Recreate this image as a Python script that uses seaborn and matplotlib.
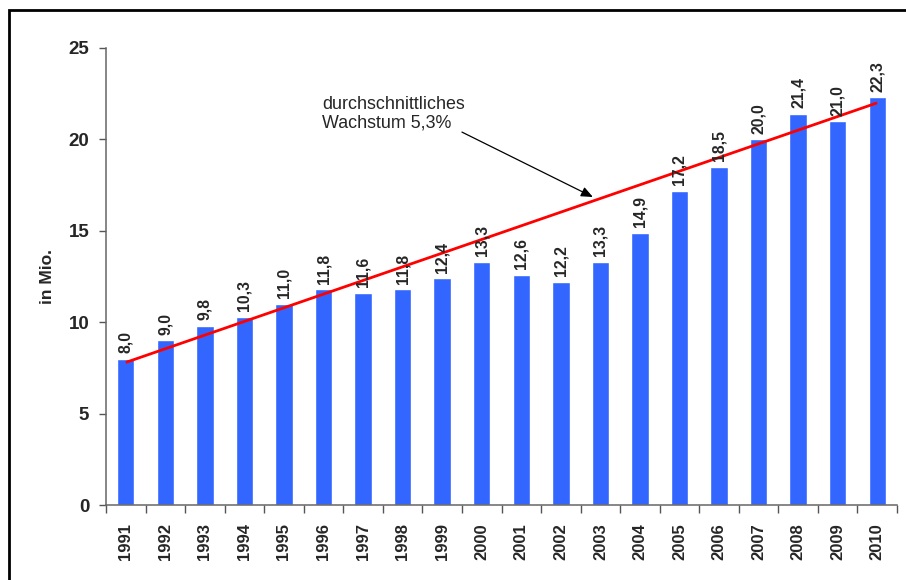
import numpy as np
import pandas as pd
import matplotlib
matplotlib.use("Agg")
import matplotlib.pyplot as plt
from matplotlib.patches import Rectangle
import seaborn as sns

# data
years = [str(y) for y in range(1991, 2011)]
values = [8.0, 9.0, 9.8, 10.3, 11.0, 11.8, 11.6, 11.8, 12.4, 13.3,
          12.6, 12.2, 13.3, 14.9, 17.2, 18.5, 20.0, 21.4, 21.0, 22.3]
trend_x = [0, 19]
trend_y = [7.8, 22.0]
note = "durchschnittliches\nWachstum 5,3%"

sns.set_style("ticks")
plt.rcParams['font.family'] = ['Liberation Sans', 'DejaVu Sans']

df = pd.DataFrame({"year": years, "value": values})

fig = plt.figure(figsize=(9.06, 5.8), dpi=100)
ax = fig.add_axes([106 / 906, 75 / 580, (897 - 106) / 906, (505 - 48) / 580])

sns.barplot(data=df, x="year", y="value", color="#3366FF", saturation=1,
            width=0.44, ax=ax)

# trend line
ax.plot(trend_x, trend_y, color="#FF0000", lw=2, solid_capstyle="butt")

# value labels
for i, v in enumerate(values):
    ax.text(i, v + 0.3, f"{v:.1f}".replace(".", ","), rotation=90,
            ha="center", va="bottom", fontsize=11.3, fontweight="bold")

# annotation
ax.text(4.96, 22.4, note, ha="left", va="top", fontsize=12.9,
        linespacing=1.15)
ax.annotate("", xy=(11.81, 16.85), xytext=(8.5, 20.4),
            arrowprops=dict(arrowstyle="-|>,head_length=0.7,head_width=0.3",
                            color="black", lw=0.9, shrinkA=0, shrinkB=0))

ax.set_xlim(-0.5, 19.5)
ax.set_ylim(0, 25)
ax.set_yticks([0, 5, 10, 15, 20, 25])
ax.set_xlabel("")
ax.set_ylabel("in Mio.", fontsize=12.5, fontweight="bold", labelpad=10)

ax.set_xticks(range(len(years)))
ax.set_xticklabels(years, rotation=90, fontsize=12, fontweight="bold")
ax.set_xticks(np.arange(-0.5, 20, 1), minor=True)
ax.tick_params(axis="x", which="major", length=0, pad=13)
ax.tick_params(axis="x", which="minor", length=6, width=1, color="#555555")
ax.tick_params(axis="y", length=5, width=1, color="#555555", pad=7)
for lab in ax.get_yticklabels():
    lab.set_fontsize(13.5)
    lab.set_fontweight("bold")

sns.despine(ax=ax)
for side in ["left", "bottom"]:
    ax.spines[side].set_color("#666666")
    ax.spines[side].set_linewidth(1.1)

# outer frame
fig.patches.append(Rectangle((9 / 906, -0.1), 1.2, 1 - 10 / 580 + 0.1,
                             transform=fig.transFigure, fill=False,
                             edgecolor="black", lw=2))

fig.savefig("out.png", dpi=100)
